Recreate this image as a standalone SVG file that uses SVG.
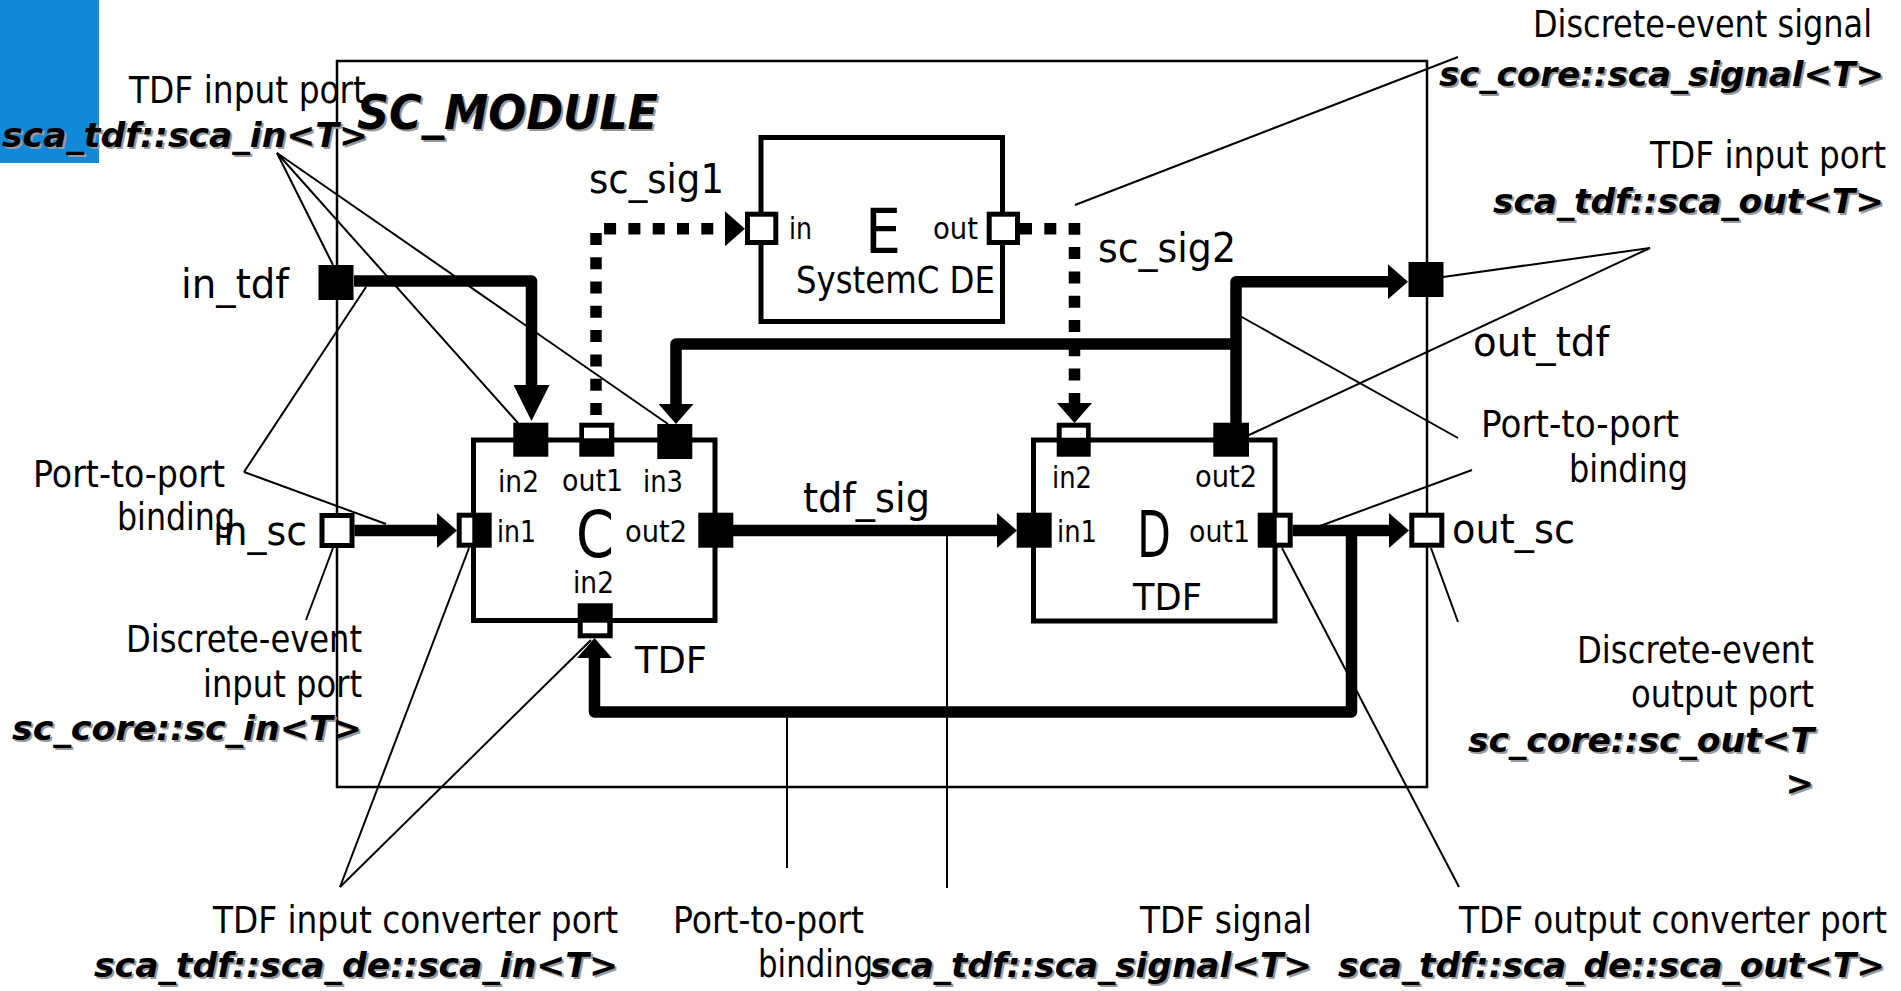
<svg xmlns="http://www.w3.org/2000/svg" xmlns:xlink="http://www.w3.org/1999/xlink" width="1901" height="991" viewBox="0 0 1901 991">
<style>
.t{font-family:"DejaVu Sans","Liberation Sans",sans-serif;font-size:37px;fill:#000}
.s{font-family:"DejaVu Sans","Liberation Sans",sans-serif;font-size:41px;fill:#000}
.p{font-family:"DejaVu Sans","Liberation Sans",sans-serif;font-size:30px;fill:#000}
.big{font-family:"DejaVu Sans","Liberation Sans",sans-serif;font-size:64px;fill:#000}
.b{font-family:"DejaVu Sans","Liberation Sans",sans-serif;font-size:34px;font-weight:bold;font-style:italic}
.box{fill:#fff;stroke:#000;stroke-width:5}
.pb{fill:#000}
.pw{fill:#fff}
.pwb{fill:#fff;stroke:#000;stroke-width:5}
.lead{stroke:#000;stroke-width:2;fill:none}
.thick{stroke:#000;stroke-width:11.5;fill:none;stroke-linejoin:round}
.dot{stroke:#000;stroke-width:11.5;fill:none;stroke-dasharray:12 12.3}
</style>
<defs>
<marker id="arr" markerUnits="userSpaceOnUse" markerWidth="20" markerHeight="35" refX="0" refY="17.5" orient="auto">
<path d="M0,0 L20,17.5 L0,35 z" fill="#000"/>
</marker>
<marker id="arrL" markerUnits="userSpaceOnUse" markerWidth="36" markerHeight="36" refX="0" refY="18" orient="auto">
<path d="M0,0 L36,18 L0,36 z" fill="#000"/>
</marker>
<g id="bolds">
<text class="b" x="357" y="129" style="font-size:48px" textLength="301" lengthAdjust="spacingAndGlyphs">SC_MODULE</text>
<text class="b" x="2" y="147" textLength="366" lengthAdjust="spacingAndGlyphs">sca_tdf::sca_in&lt;T&gt;</text>
<text class="b" x="1439" y="86" textLength="445" lengthAdjust="spacingAndGlyphs">sc_core::sca_signal&lt;T&gt;</text>
<text class="b" x="1493" y="213" textLength="391" lengthAdjust="spacingAndGlyphs">sca_tdf::sca_out&lt;T&gt;</text>
<text class="b" x="1468" y="752" textLength="346" lengthAdjust="spacingAndGlyphs">sc_core::sc_out&lt;T</text>
<text class="b" x="1814" y="795" text-anchor="end">&gt;</text>
<text class="b" x="12" y="740" textLength="350" lengthAdjust="spacingAndGlyphs">sc_core::sc_in&lt;T&gt;</text>
<text class="b" x="94" y="977" textLength="524" lengthAdjust="spacingAndGlyphs">sca_tdf::sca_de::sca_in&lt;T&gt;</text>
<text class="b" x="870" y="977" textLength="442" lengthAdjust="spacingAndGlyphs">sca_tdf::sca_signal&lt;T&gt;</text>
<text class="b" x="1338" y="977" textLength="547" lengthAdjust="spacingAndGlyphs">sca_tdf::sca_de::sca_out&lt;T&gt;</text>
</g>
</defs>
<rect x="0" y="0" width="1901" height="991" fill="#fff"/>
<rect id="corner" x="0" y="0" width="99" height="163" fill="#1288d9"/>

<g id="sc_module">
<rect x="337" y="61" width="1090" height="726" fill="none" stroke="#000" stroke-width="2.5"/>
</g>

<g id="leaders">
<line class="lead" x1="277" y1="153" x2="333" y2="265"/>
<line class="lead" x1="277" y1="153" x2="518" y2="423"/>
<line class="lead" x1="277" y1="153" x2="668" y2="424"/>
<line class="lead" x1="244" y1="472" x2="366" y2="287"/>
<line class="lead" x1="244" y1="472" x2="386" y2="524"/>
<line class="lead" x1="306" y1="620" x2="333" y2="548"/>
<line class="lead" x1="340" y1="887" x2="469" y2="548"/>
<line class="lead" x1="340" y1="887" x2="591" y2="640"/>
<line class="lead" x1="787" y1="712" x2="787" y2="868"/>
<line class="lead" x1="947" y1="531" x2="947" y2="888"/>
<line class="lead" x1="1282" y1="548" x2="1459" y2="887"/>
<line class="lead" x1="1431" y1="548" x2="1458" y2="622"/>
<line class="lead" x1="1472" y1="470" x2="1320" y2="526"/>
<line class="lead" x1="1458" y1="438" x2="1240" y2="316"/>
<line class="lead" x1="1650" y1="248" x2="1443" y2="277"/>
<line class="lead" x1="1650" y1="248" x2="1249" y2="435"/>
<line class="lead" x1="1458" y1="57" x2="1075" y2="205"/>
</g>

<g id="connectors">
<path class="thick" d="M354,281 H531.5 V385" marker-end="url(#arrL)"/>
<path class="dot" d="M596,415 V228.7 H725" marker-end="url(#arr)"/>
<path class="dot" d="M1020,228.7 H1074.5 V403" marker-end="url(#arr)"/>
<path class="thick" d="M354.5,530.5 H437" marker-end="url(#arr)"/>
<path class="thick" d="M733,530.5 H997" marker-end="url(#arr)"/>
<path class="thick" d="M1292.7,530.5 H1389" marker-end="url(#arr)"/>
<path class="thick" d="M1351.5,530.5 V712 H594.5 V658" marker-end="url(#arr)"/>
<path class="thick" d="M1236,423 V281.7 H1388" marker-end="url(#arr)"/>
<path class="thick" d="M1236,344 H676 V404" marker-end="url(#arr)"/>
</g>

<g id="node_E">
<rect class="box" x="761" y="137.5" width="241.5" height="184"/>
<rect class="pwb" x="747.5" y="214.2" width="28.3" height="28.3"/>
<rect class="pwb" x="989.2" y="214.2" width="28.3" height="28.3"/>
<text class="p" x="789" y="239" textLength="23" lengthAdjust="spacingAndGlyphs">in</text>
<text class="big" x="865" y="253" style="font-size:62px" textLength="36" lengthAdjust="spacingAndGlyphs">E</text>
<text class="p" x="933" y="239" textLength="45" lengthAdjust="spacingAndGlyphs">out</text>
<text class="t" x="796" y="293" textLength="199" lengthAdjust="spacingAndGlyphs">SystemC DE</text>
</g>

<g id="node_C">
<rect class="box" x="473.5" y="440" width="241.5" height="180.5"/>
<rect class="pb" x="513.3" y="422.7" width="35" height="34"/>
<rect class="pb" x="579.3" y="422.7" width="35" height="34"/>
<rect class="pw" x="584" y="427.7" width="25" height="10.6"/>
<rect class="pb" x="657.3" y="424" width="35" height="35"/>
<rect class="pb" x="456.7" y="512.7" width="35" height="35"/>
<rect class="pw" x="461.7" y="517.7" width="10.6" height="25"/>
<rect class="pb" x="698.3" y="512.7" width="35" height="35"/>
<rect class="pb" x="577.7" y="603.3" width="35" height="35"/>
<rect class="pw" x="582.7" y="622.7" width="24.6" height="10.6"/>
<text class="p" x="498" y="492" textLength="41" lengthAdjust="spacingAndGlyphs">in2</text>
<text class="p" x="562" y="491" textLength="61" lengthAdjust="spacingAndGlyphs">out1</text>
<text class="p" x="643" y="492" textLength="40" lengthAdjust="spacingAndGlyphs">in3</text>
<text class="p" x="497" y="542" textLength="39" lengthAdjust="spacingAndGlyphs">in1</text>
<text class="big" x="576" y="557" textLength="38" lengthAdjust="spacingAndGlyphs">C</text>
<text class="p" x="625" y="542" textLength="62" lengthAdjust="spacingAndGlyphs">out2</text>
<text class="p" x="573" y="593" textLength="41" lengthAdjust="spacingAndGlyphs">in2</text>
<text class="t" x="635" y="673" textLength="72" lengthAdjust="spacingAndGlyphs">TDF</text>
</g>

<g id="node_D">
<rect class="box" x="1033.5" y="440" width="241.5" height="181"/>
<rect class="pb" x="1056.7" y="422.7" width="34" height="34"/>
<rect class="pw" x="1061.7" y="427.7" width="24.3" height="10"/>
<rect class="pb" x="1213.3" y="422.7" width="35.7" height="34"/>
<rect class="pb" x="1016.7" y="512.7" width="35" height="35"/>
<rect class="pb" x="1257.7" y="512.7" width="35" height="35"/>
<rect class="pw" x="1276.7" y="517.7" width="11" height="25"/>
<text class="p" x="1052" y="488" textLength="40" lengthAdjust="spacingAndGlyphs">in2</text>
<text class="p" x="1195" y="487" textLength="62" lengthAdjust="spacingAndGlyphs">out2</text>
<text class="p" x="1057" y="542" textLength="40" lengthAdjust="spacingAndGlyphs">in1</text>
<text class="big" x="1137" y="557" textLength="34" lengthAdjust="spacingAndGlyphs">D</text>
<text class="p" x="1189" y="542" textLength="61" lengthAdjust="spacingAndGlyphs">out1</text>
<text class="t" x="1133" y="610" textLength="69" lengthAdjust="spacingAndGlyphs">TDF</text>
</g>

<g id="port_in_tdf">
<rect class="pb" x="318.5" y="265" width="35" height="35"/>
<text class="s" x="181" y="298" textLength="108" lengthAdjust="spacingAndGlyphs">in_tdf</text>
</g>
<g id="port_in_sc">
<rect class="pwb" x="322" y="515.5" width="30" height="30"/>
<text class="s" x="213" y="545" textLength="94" lengthAdjust="spacingAndGlyphs">in_sc</text>
</g>
<g id="port_out_tdf">
<rect class="pb" x="1408.5" y="262" width="35" height="35"/>
<text class="s" x="1473" y="356" textLength="136" lengthAdjust="spacingAndGlyphs">out_tdf</text>
</g>
<g id="port_out_sc">
<rect class="pwb" x="1411.8" y="515.2" width="30" height="30"/>
<text class="s" x="1452" y="543" textLength="123" lengthAdjust="spacingAndGlyphs">out_sc</text>
</g>

<g id="signal_labels">
<text class="s" x="589" y="193" textLength="135" lengthAdjust="spacingAndGlyphs">sc_sig1</text>
<text class="s" x="1098" y="262" textLength="138" lengthAdjust="spacingAndGlyphs">sc_sig2</text>
<text class="s" x="803" y="512" textLength="127" lengthAdjust="spacingAndGlyphs">tdf_sig</text>
</g>

<g id="annotations">
<text class="t" x="129" y="103" textLength="237" lengthAdjust="spacingAndGlyphs">TDF input port</text>
<text class="t" x="1533" y="37" textLength="339" lengthAdjust="spacingAndGlyphs">Discrete-event signal</text>
<text class="t" x="1650" y="168" textLength="236" lengthAdjust="spacingAndGlyphs">TDF input port</text>
<text class="t" x="1481" y="437" textLength="198" lengthAdjust="spacingAndGlyphs">Port-to-port</text>
<text class="t" x="1569" y="482" textLength="119" lengthAdjust="spacingAndGlyphs">binding</text>
<text class="t" x="1577" y="663" textLength="237" lengthAdjust="spacingAndGlyphs">Discrete-event</text>
<text class="t" x="1631" y="707" textLength="183" lengthAdjust="spacingAndGlyphs">output port</text>
<text class="t" x="33" y="487" textLength="192" lengthAdjust="spacingAndGlyphs">Port-to-port</text>
<text class="t" x="117" y="530" textLength="118" lengthAdjust="spacingAndGlyphs">binding</text>
<text class="t" x="126" y="652" textLength="236" lengthAdjust="spacingAndGlyphs">Discrete-event</text>
<text class="t" x="203" y="697" textLength="159" lengthAdjust="spacingAndGlyphs">input port</text>
<text class="t" x="213" y="933" textLength="405" lengthAdjust="spacingAndGlyphs">TDF input converter port</text>
<text class="t" x="673" y="933" textLength="191" lengthAdjust="spacingAndGlyphs">Port-to-port</text>
<text class="t" x="758" y="977" textLength="115" lengthAdjust="spacingAndGlyphs">binding</text>
<text class="t" x="1140" y="933" textLength="172" lengthAdjust="spacingAndGlyphs">TDF signal</text>
<text class="t" x="1459" y="933" textLength="428" lengthAdjust="spacingAndGlyphs">TDF output converter port</text>
<use xlink:href="#bolds" href="#bolds" x="2" y="2" fill="#9a9a9a"/>
<use xlink:href="#bolds" href="#bolds" fill="#000"/>
</g>
</svg>
